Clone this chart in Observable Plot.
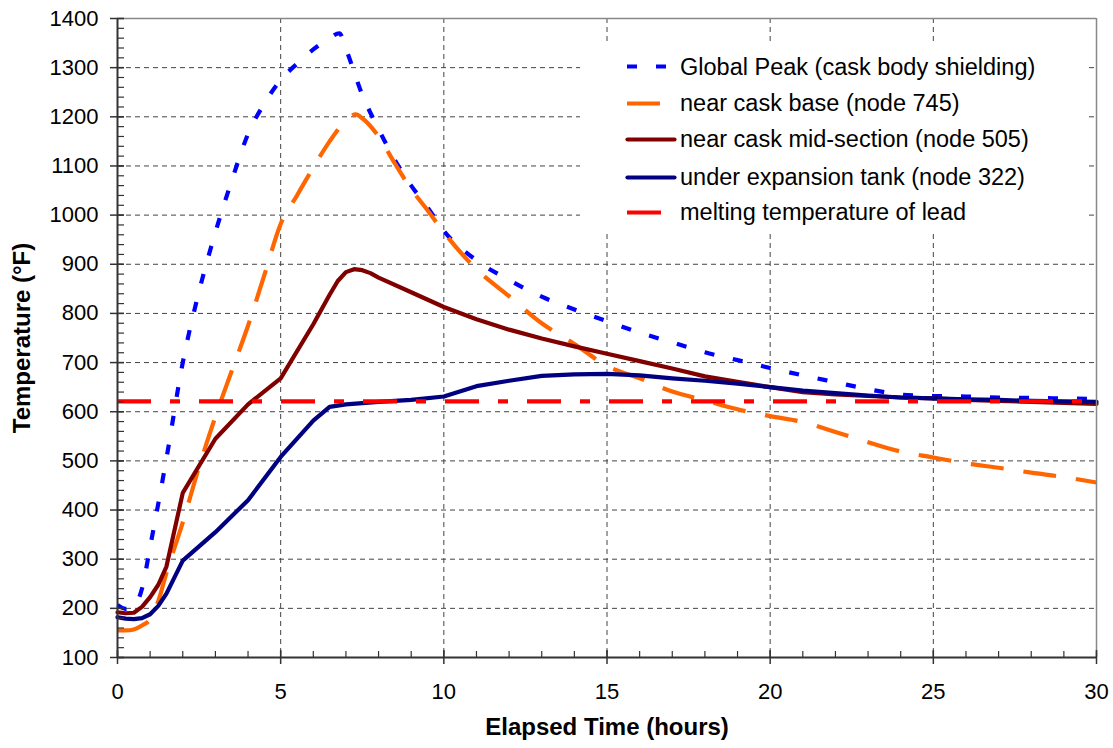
<!DOCTYPE html>
<html><head><meta charset="utf-8">
<script src="https://cdn.jsdelivr.net/npm/d3@7"></script>
<script src="https://cdn.jsdelivr.net/npm/@observablehq/plot@0.6"></script>
<style>
html,body{margin:0;padding:0;background:#fff;}
#wrap{position:relative;width:1113px;height:748px;font-family:"Liberation Sans",Arial,sans-serif;}
#wrap svg{font-family:"Liberation Sans",Arial,sans-serif;}
g[aria-label="x-axis label"] text, g[aria-label="y-axis label"] text{font-weight:bold;font-size:24px;fill:#000;}
#legend{position:absolute;left:580px;top:43px;width:506px;height:190px;background:#fff;}
.row{position:absolute;left:45px;display:flex;align-items:center;font-size:23.5px;color:#000;white-space:nowrap;transform:translateY(-50%);}
.row svg{width:52px;height:10px;margin-right:3px;flex:none;}
</style></head>
<body><div id="wrap"></div>
<script>
// Global Peak (cask body shielding)
const peakHours = [0,0.25,0.5,0.75,1,1.5,2,2.5,3,3.5,4,4.5,5,5.5,6,6.5,6.8,7,7.5,8,8.5,9,9.5,10,11,12,13,14,15,16,17,18,19,20,21,22,23,24,25,26,27,28,29,30];
const peakTemp  = [207,199,205,240,325,505,700,845,965,1070,1165,1227,1275,1308,1337,1360,1370,1338,1245,1175,1112,1060,1016,968,908,868,834,808,784,761,741,721,705,689,674,660,646,635,632,631,629,628,627,626];
// near cask base (node 745)
const baseHours = [0,0.25,0.5,0.75,1,1.25,1.5,2,2.5,3,3.5,4,4.5,5,5.5,6,6.5,7,7.3,7.5,8,8.5,9,9.5,10,11,12,13,14,15,16,17,18,19,20,21,22,23,24,25,26,27,28,29,30];
const baseTemp  = [155,155,157,165,178,215,272,375,488,590,683,775,878,982,1040,1097,1150,1192,1205,1197,1160,1105,1053,1010,965,890,835,780,738,693,668,641,623,605,591,579,559,538,519,507,495,486,476,467,456];
// near cask mid-section (node 505)
const midHours = [0,0.25,0.5,0.75,1,1.25,1.5,2,3,4,5,6,6.5,6.75,7,7.25,7.5,7.75,8,9,10,11,12,13,14,15,16,17,18,19,20,21,22,23,24,25,26,27,28,29,30];
const midTemp  = [192,190,191,203,223,248,285,435,545,615,668,778,838,866,884,890,888,882,873,843,813,788,767,749,733,718,703,688,672,661,650,640,635,632,629,627,624,622,620,618,616];
// under expansion tank (node 322)
const tankHours = [0,0.25,0.5,0.75,1,1.25,1.5,2,3,4,5,6,6.5,7,8,9,10,11,12,13,14,15,16,17,18,19,20,21,22,23,24,25,26,27,28,29,30];
const tankTemp  = [182,179,178,180,188,205,230,297,355,420,508,582,610,615,620,624,631,652,663,673,676,677,674,668,663,657,650,643,638,633,629,627,625,624,622,621,620];
// melting temperature of lead
const leadMelt = 621;

const seriesNames = ["Global Peak (cask body shielding)","near cask base (node 745)","near cask mid-section (node 505)","under expansion tank (node 322)","melting temperature of lead"];
const seriesColors = ["#0000ff","#ff6600","#800000","#000080","#ff0000"];
const seriesDash = ["10,19","33,20",null,null,"34,19,10,19"];
const seriesCurve = ["monotone-x","monotone-x","linear","linear"];

const xMajor = [0,5,10,15,20,25,30];
const xMinor = d3.range(0,31,1);
const yMajor = d3.range(100,1401,100);
const yMinor = d3.range(100,1401,20);

const toRows = (h, v) => h.map((t, i) => ({t, v: v[i]}));
const lineOpts = (k) => ({x:"t", y:"v", stroke: seriesColors[k], strokeWidth: 4.2,
  strokeDasharray: seriesDash[k] || undefined, strokeLinecap: seriesDash[k] ? "butt" : "round",
  curve: seriesCurve[k]});

const tickStroke = "#333";
const chart = Plot.plot({
  width: 1113, height: 748,
  marginLeft: 117, marginRight: 17, marginTop: 18, marginBottom: 91,
  x: {domain: [0, 30]},
  y: {domain: [100, 1400]},
  style: {fontFamily: '"Liberation Sans", Arial, sans-serif', fontSize: "22px", color: "#000", background: "#fff", overflow: "visible"},
  marks: [
    Plot.gridY(yMajor.filter(d => d > 100 && d < 1400), {stroke: "#444", strokeOpacity: 1, strokeDasharray: "5,4"}),
    Plot.gridX(xMajor.filter(d => d > 0 && d < 30), {stroke: "#444", strokeOpacity: 1, strokeDasharray: "5,4"}),
    Plot.line(toRows(peakHours, peakTemp), lineOpts(0)),
    Plot.line(toRows(baseHours, baseTemp), lineOpts(1)),
    Plot.line(toRows(midHours, midTemp), lineOpts(2)),
    Plot.line(toRows(tankHours, tankTemp), lineOpts(3)),
    Plot.ruleY([leadMelt], {stroke: seriesColors[4], strokeWidth: 4.2, strokeDasharray: seriesDash[4]}),
    Plot.ruleY([1400], {stroke: "#888", strokeWidth: 1.5}),
    Plot.ruleX([30], {stroke: "#888", strokeWidth: 1.5}),
    Plot.ruleX([0], {stroke: "#333", strokeWidth: 2}),
    Plot.ruleY([100], {stroke: "#333", strokeWidth: 2}),
    Plot.axisY(yMajor, {tickSize: 14, dx: 7, fill: "none", stroke: tickStroke, strokeWidth: 1.5, label: null}),
    Plot.axisY(yMinor, {tickSize: 7, dx: 7, fill: "none", stroke: tickStroke, strokeWidth: 1.2, label: null}),
    Plot.axisY(yMajor, {tickSize: 0, tickPadding: 19, fontSize: 22, fill: "#000", tickFormat: d => String(d),
      label: "Temperature (°F)", labelAnchor: "center", labelArrow: "none", labelOffset: 105}),
    Plot.axisX(xMajor, {tickSize: 14, dy: -7, fill: "none", stroke: tickStroke, strokeWidth: 1.5, label: null}),
    Plot.axisX(xMinor, {tickSize: 6, dy: -6, fill: "none", stroke: tickStroke, strokeWidth: 1.2, label: null}),
    Plot.axisX(xMajor, {tickSize: 0, tickPadding: 26, fontSize: 22, fill: "#000", tickFormat: d => String(d),
      label: "Elapsed Time (hours)", labelAnchor: "center", labelArrow: "none", labelOffset: 77})
  ]
});
const wrap = document.getElementById("wrap");
wrap.appendChild(chart);

// legend
const legend = document.createElement("div");
legend.id = "legend";
const rowY = [23.7, 60, 96, 134, 169];
seriesNames.forEach((name, k) => {
  const row = document.createElement("div");
  row.className = "row";
  row.style.top = rowY[k] + "px";
  const ns = "http://www.w3.org/2000/svg";
  const s = document.createElementNS(ns, "svg");
  s.setAttribute("viewBox", "0 0 52 10");
  const ln = document.createElementNS(ns, "line");
  const dashed = !!seriesDash[k];
  ln.setAttribute("x1", dashed ? 2 : 2.5);
  ln.setAttribute("x2", dashed ? 50 : 49.5);
  ln.setAttribute("y1", 5); ln.setAttribute("y2", 5);
  ln.setAttribute("stroke", seriesColors[k]);
  ln.setAttribute("stroke-width", 4.2);
  ln.setAttribute("stroke-linecap", dashed ? "butt" : "round");
  if (dashed) ln.setAttribute("stroke-dasharray", seriesDash[k]);
  s.appendChild(ln);
  const txt = document.createElement("span");
  txt.textContent = name;
  row.appendChild(s);
  row.appendChild(txt);
  legend.appendChild(row);
});
wrap.appendChild(legend);
</script>
</body></html>
